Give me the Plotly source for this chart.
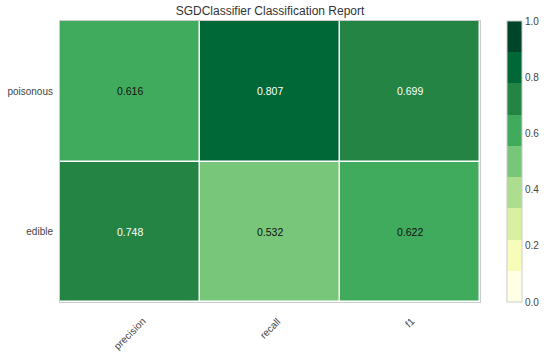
import plotly.graph_objects as go

classes = ["edible", "poisonous"]
metrics = ["precision", "recall", "f1"]
scores = [
    [0.748, 0.532, 0.622],  # edible
    [0.616, 0.807, 0.699],  # poisonous
]
title = "SGDClassifier Classification Report"
cbar_ticks = [0.0, 0.2, 0.4, 0.6, 0.8, 1.0]

ylgn9 = ["#ffffe5", "#f7fcb9", "#d9f0a3", "#addd8e", "#78c679",
         "#41ab5d", "#238443", "#006837", "#004529"]
n = len(ylgn9)
colorscale = []
for i, c in enumerate(ylgn9):
    colorscale.append([i / n, c])
    colorscale.append([(i + 1) / n, c])

FONT = "Liberation Sans, Arial, sans-serif"

fig = go.Figure()
fig.add_trace(go.Heatmap(
    z=scores, x=metrics, y=classes,
    zmin=0, zmax=1, colorscale=colorscale,
    xgap=1.5, ygap=1.5,
    hoverinfo="skip",
    colorbar=dict(
        thickness=15, len=1.0, lenmode="fraction",
        x=(507 - 60) / 420, xanchor="left", xpad=0,
        y=0.5, yanchor="middle", ypad=0,
        outlinewidth=1, outlinecolor="#cccccc",
        tickvals=cbar_ticks, tickformat=".1f", ticks="",
        tickfont=dict(family=FONT, size=10, color="#444444"),
        ticklabelposition="outside",
    ),
))

annotations = []
for yi, cls in enumerate(classes):
    for xi, m in enumerate(metrics):
        v = scores[yi][xi]
        annotations.append(dict(
            x=m, y=cls, xref="x", yref="y", text=f"{v:.3f}",
            showarrow=False,
            font=dict(family=FONT, size=10.5, color="white" if v > 0.65 else "#111111"),
        ))
for m in metrics:
    annotations.append(dict(
        x=m, y=0, xref="x", yref="paper", text=m, textangle=-45,
        xanchor="center", yanchor="top", yshift=-11, showarrow=False,
        font=dict(family=FONT, size=10, color="#444444"),
    ))

fig.update_layout(
    width=549, height=352,
    margin=dict(l=60, r=69, t=21, b=50, autoexpand=False),
    paper_bgcolor="white", plot_bgcolor="white",
    title=dict(text=title, x=270 / 549, xanchor="center", y=1 - 11 / 352, yanchor="middle",
               font=dict(family=FONT, size=12, color="#333333")),
    annotations=annotations,
    xaxis=dict(showticklabels=False, ticks="", showgrid=False, zeroline=False, automargin=False,
               showline=True, mirror=True, linecolor="#cccccc", linewidth=1),
    yaxis=dict(ticks="", showgrid=False, zeroline=False, ticklabelstandoff=4, automargin=False,
               showline=True, mirror=True, linecolor="#cccccc", linewidth=1,
               tickfont=dict(family=FONT, size=10, color="#444444")),
)

fig.write_html("out.html")
